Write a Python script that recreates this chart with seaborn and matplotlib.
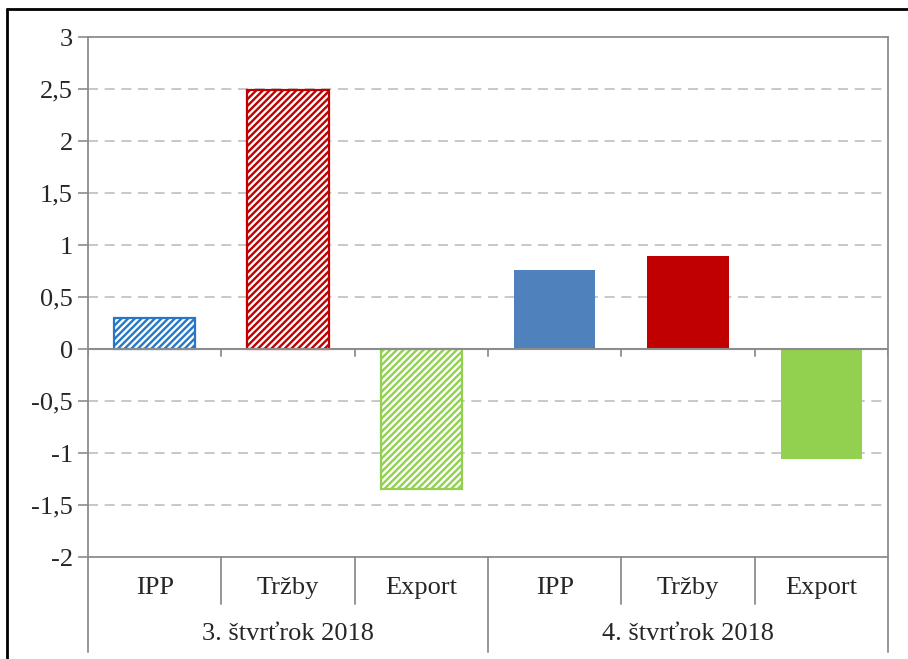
import pandas as pd
import seaborn as sns
import matplotlib.pyplot as plt
from matplotlib.lines import Line2D
import matplotlib.transforms as mtransforms

# data
stvrtroky = ["3. štvrťrok 2018", "4. štvrťrok 2018"]
ukazovatele = ["IPP", "Tržby", "Export"]
hodnoty_q3 = [0.30, 2.49, -1.35]
hodnoty_q4 = [0.76, 0.89, -1.06]
farby = ["#4F81BD", "#C00000", "#92D050"]
farby_srafy = ["#2678C6", "#C00000", "#92D050"]
y_ticky = [-2, -1.5, -1, -0.5, 0, 0.5, 1, 1.5, 2, 2.5, 3]

rows = []
for s, vals in zip(stvrtroky, [hodnoty_q3, hodnoty_q4]):
    for u, v in zip(ukazovatele, vals):
        rows.append({"pozicia": s + " | " + u, "stvrtrok": s, "ukazovatel": u, "hodnota": v})
df = pd.DataFrame(rows)

sns.set_style("white")
plt.rcParams["font.family"] = ["Liberation Serif", "DejaVu Serif"]
plt.rcParams["hatch.linewidth"] = 1.7

W, H = 908, 659
fig = plt.figure(figsize=(W / 100, H / 100), dpi=100)
x0, x1, y_top, y_bot = 88, 888, 37, 557
ax = fig.add_axes([x0 / W, 1 - y_bot / H, (x1 - x0) / W, (y_bot - y_top) / H])

paleta = farby * len(stvrtroky)
sns.barplot(data=df, x="pozicia", y="hodnota", hue="pozicia", palette=paleta,
            saturation=1, width=0.61, legend=False, ax=ax)

# first quarter: hatched bars
for i, p in enumerate(ax.patches):
    if i < len(ukazovatele):
        p.set_facecolor("white")
        p.set_edgecolor(farby_srafy[i])
        p.set_hatch("/////")
        p.set_linewidth(1.6)
    else:
        p.set_linewidth(0)

grey = "#8C8C8C"
ax.set_xlim(-0.5, len(df) - 0.5)
ax.set_ylim(-2, 3)
ax.set_yticks(y_ticky)
ax.set_yticklabels([("%g" % t).replace(".", ",") for t in y_ticky], fontsize=19)
ax.set_xticks([])
ax.set_xlabel("")
ax.set_ylabel("")
ax.tick_params(axis="y", direction="out", length=7, width=1.2, color=grey, pad=4, left=True)
for sp in ax.spines.values():
    sp.set_color(grey)
    sp.set_linewidth(1.3)

for t in y_ticky[1:-1]:
    if t != 0:
        ax.axhline(t, color="#BFBFBF", lw=1.2, ls=(0, (6, 4)), zorder=0)
ax.axhline(0, color=grey, lw=1.5, zorder=3)

# ticks on the zero line at category boundaries
px = 1 / (y_bot - y_top) * 5  # data units per pixel
for b in range(len(df) + 1):
    ax.add_line(Line2D([b - 0.5, b - 0.5], [0, -7 * px], color=grey, lw=1.3, zorder=3))

# two-level category labels below the plot
tr = mtransforms.blended_transform_factory(ax.transData, fig.transFigure)
for k, row in df.iterrows():
    ax.text(k, 1 - 588 / H, row["ukazovatel"], transform=tr, ha="center", va="center", fontsize=19)
for g, s in enumerate(stvrtroky):
    n = len(ukazovatele)
    ax.text(g * n + (n - 1) / 2, 1 - 634 / H, s, transform=tr, ha="center", va="center", fontsize=19)

for b in range(len(df) + 1):
    dolu = 652 if b % len(ukazovatele) == 0 else 604
    fig.add_artist(Line2D([b - 0.5, b - 0.5], [1 - y_bot / H, 1 - dolu / H], transform=tr,
                          color=grey, lw=1.3))

# outer black frame (cropped)
fig.add_artist(Line2D([7 / W, 7 / W], [0, 1 - 9 / H], transform=fig.transFigure, color="black", lw=2))
fig.add_artist(Line2D([7 / W, 1], [1 - 9 / H, 1 - 9 / H], transform=fig.transFigure, color="black", lw=2))

fig.savefig("out.png", dpi=100)
